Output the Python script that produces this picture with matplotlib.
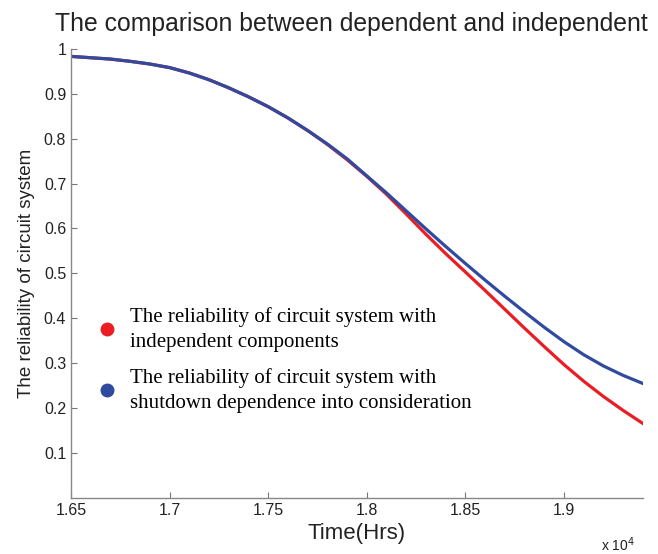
import matplotlib

matplotlib.use("Agg")
import matplotlib.pyplot as plt
from matplotlib.lines import Line2D

# (every 100 hrs)
time_hrs = [16500, 16600, 16700, 16800, 16900, 17000, 17100, 17200, 17300,
            17400, 17500, 17600, 17700, 17800, 17900, 18000, 18100, 18200,
            18300, 18400, 18500, 18600, 18700, 18800, 18900, 19000, 19100,
            19200, 19300, 19400]
rel_independent = [0.983, 0.980, 0.977, 0.972, 0.966, 0.958, 0.946, 0.931, 0.913,
                   0.893, 0.871, 0.846, 0.818, 0.787, 0.753, 0.716, 0.676, 0.632,
                   0.587, 0.544, 0.503, 0.462, 0.420, 0.378, 0.337, 0.297, 0.260,
                   0.226, 0.195, 0.166]
rel_dependent = [0.983, 0.980, 0.977, 0.972, 0.966, 0.958, 0.946, 0.931, 0.913,
                 0.893, 0.871, 0.846, 0.818, 0.788, 0.755, 0.717, 0.679, 0.639,
                 0.599, 0.560, 0.522, 0.485, 0.449, 0.414, 0.380, 0.348, 0.319,
                 0.294, 0.273, 0.255]
x_ticks = [16500, 17000, 17500, 18000, 18500, 19000]
x_labels = ["1.65", "1.7", "1.75", "1.8", "1.85", "1.9"]
y_ticks = [0.1, 0.2, 0.3, 0.4, 0.5, 0.6, 0.7, 0.8, 0.9, 1.0]
y_labels = ["0.1", "0.2", "0.3", "0.4", "0.5", "0.6", "0.7", "0.8", "0.9", "1"]
legend_labels = ["The reliability of circuit system with\nindependent components",
                 "The reliability of circuit system with\nshutdown dependence into consideration"]

RED = "#ec1c24"
BLUE = "#2f4a9e"
plt.rcParams["font.family"] = ["Liberation Sans", "DejaVu Sans"]

fig = plt.figure(figsize=(6.58, 5.54), dpi=100)
ax = fig.add_axes([0.108, 0.101, 0.869, 0.811])

ax.plot(time_hrs, rel_independent, color=RED, lw=2.3)
ax.plot(time_hrs, rel_dependent, color=BLUE, lw=2.3)

ax.set_xlim(16500, 19400)
ax.set_ylim(0, 1)
ax.set_xticks(x_ticks, x_labels)
ax.set_yticks(y_ticks, y_labels)
ax.tick_params(direction="in", length=4, width=0.8, color="#777777",
               labelsize=11.5, labelcolor="#222222")
for side in ("top", "right"):
    ax.spines[side].set_visible(False)
for side in ("left", "bottom"):
    ax.spines[side].set_color("#888888")
    ax.spines[side].set_linewidth(1.0)

ax.set_title("The comparison between dependent and independent",
             fontsize=17.8, color="#222222", pad=13, x=0.49)
ax.set_xlabel("Time(Hrs)", fontsize=16, color="#222222", labelpad=4)
ax.set_ylabel("The reliability of circuit system", fontsize=13.5,
              color="#222222", labelpad=6)
fig.text(0.913, 0.006, "x 10$^4$", fontsize=10, color="#222222")

handles = [Line2D([], [], color=c, marker="o", ls="none", markersize=9)
           for c in (RED, BLUE)]
leg = ax.legend(handles, legend_labels, loc="center left",
                bbox_to_anchor=(0.045, 0.307), frameon=False, handlelength=1.0,
                handletextpad=0.6, labelspacing=0.8, borderpad=0, borderaxespad=0,
                prop={"family": "Liberation Serif", "size": 15})
for t in leg.get_texts():
    t.set_linespacing(1.4)

fig.savefig("out.png", dpi=100)
